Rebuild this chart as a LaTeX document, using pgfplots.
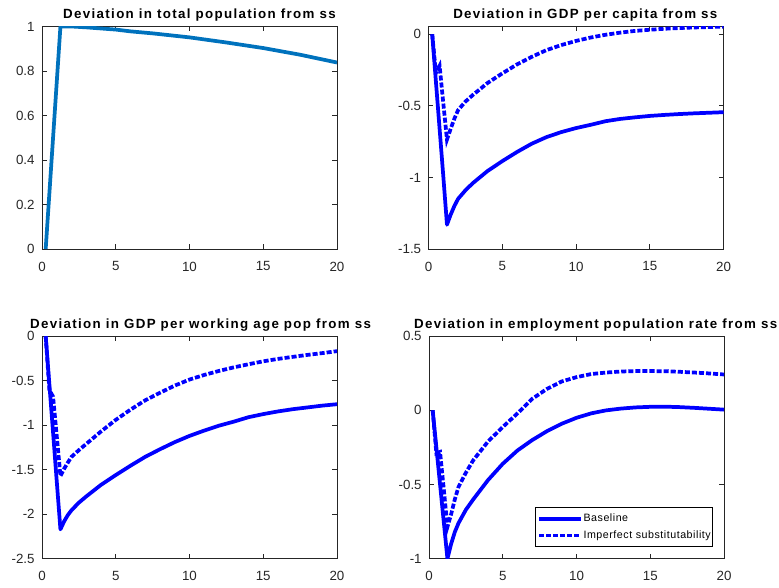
\documentclass[border=0pt]{standalone}
\usepackage{fontspec}
\setmainfont{Liberation Sans}
\newfontfamily\titlefont{Liberation Sans}[LetterSpace=10]
\newfontfamily\legfont{Liberation Sans}[LetterSpace=5]
\usepackage{pgfplots}
\pgfplotsset{compat=1.18}

\definecolor{mblue}{rgb}{0,0.447,0.741}
\definecolor{axgray}{rgb}{0.15,0.15,0.15}

\pgfplotsset{
  mat/.style={
    scale only axis,
    width=221.25pt, height=166.9pt,
    xmin=0, xmax=20,
    xtick={0,5,10,15,20},
    tick align=inside,
    major tick length=3.5pt,
    axis line style={axgray, line width=0.6pt},
    every tick/.style={axgray, line width=0.6pt},
    tick label style={font=\fontsize{10}{11}\selectfont, text=axgray},
    /pgf/number format/assume math mode=true,
    yticklabel style={xshift=-2pt},
    xticklabel style={yshift=-6pt},
    title style={font=\titlefont\fontsize{10}{11}\selectfont\bfseries,
                 anchor=south west, inner sep=0pt, yshift=-2.6pt},
  },
  base/.style={blue, line width=2.8pt, line join=round},
  imp/.style={blue, line width=2.8pt, dash pattern=on 3.8pt off 1.5pt},
}

\begin{document}
\begin{tikzpicture}
\useasboundingbox (0,0) rectangle (584.25pt,440.25pt);

% top left
\begin{axis}[mat, at={(31.5pt,253.5pt)}, anchor=south west,
  ymin=0, ymax=1, ytick={0,0.2,0.4,0.6,0.8,1},
  yticklabels={0,0.2,0.4,0.6,0.8,1},
  title={Deviation in total population from ss},
  title style={at={(0.071,1)}}]
\addplot[mblue, line width=2.8pt, line join=round] coordinates {
 (0.25,0) (1.25,1.0) (2,1.0) (3,0.996) (4,0.991) (5,0.986) (6,0.978)
 (7.5,0.969) (10,0.951) (12.5,0.928) (15,0.903) (17.5,0.873) (20,0.838)};
\end{axis}

% top right
\begin{axis}[mat, at={(321.4pt,253.5pt)}, anchor=south west,
  ymin=-1.5, ymax=0.055, ytick={-1.5,-1,-0.5,0},
  yticklabels={-1.5,-1,-0.5,0},
  title={Deviation in GDP per capita from ss},
  title style={at={(0.083,1)}}]
\addplot[base] coordinates {
 (0.25,0) (0.5,-0.33) (0.75,-0.66) (1,-0.99) (1.25,-1.33) (1.5,-1.26)
 (1.75,-1.2) (2,-1.15) (2.5,-1.09) (3,-1.04) (4,-0.955) (5,-0.886)
 (6,-0.822) (7,-0.764) (8,-0.718) (9,-0.683) (10,-0.655) (11,-0.632)
 (12,-0.607) (13,-0.591) (14,-0.580) (15,-0.570) (16,-0.563) (17,-0.557)
 (18,-0.552) (19,-0.548) (20,-0.544)};
\addplot[imp] coordinates {
 (0.25,0) (0.5,-0.27) (0.75,-0.22) (1,-0.48) (1.25,-0.735) (1.5,-0.66)
 (1.75,-0.59) (2,-0.53) (2.5,-0.47) (3,-0.424) (4,-0.34) (5,-0.273)
 (6,-0.21) (7,-0.157) (8,-0.11) (9,-0.075) (10,-0.046) (11,-0.022)
 (12,-0.003) (13,0.012) (14,0.024) (15,0.032) (16,0.039) (17,0.044)
 (18,0.048) (19,0.051) (20,0.054)};
\end{axis}

% bottom left
\begin{axis}[mat, at={(31.5pt,21.2pt)}, anchor=south west,
  ymin=-2.5, ymax=0, ytick={-2.5,-2,-1.5,-1,-0.5,0},
  yticklabels={-2.5,-2,-1.5,-1,-0.5,0},
  title={Deviation in GDP per working age pop from ss},
  title style={at={(-0.041,1)}}]
\addplot[base] coordinates {
 (0.25,0) (0.5,-0.54) (0.75,-1.08) (1,-1.63) (1.25,-2.17) (1.5,-2.08)
 (1.75,-2.01) (2,-1.955) (2.5,-1.87) (3,-1.80) (4,-1.67) (5,-1.56)
 (6,-1.455) (7,-1.355) (8,-1.27) (9,-1.19) (10,-1.12) (11,-1.06)
 (12,-1.005) (13,-0.96) (14,-0.91) (15,-0.875) (16,-0.845) (17,-0.82)
 (18,-0.80) (19,-0.78) (20,-0.764)};
\addplot[imp] coordinates {
 (0.25,0) (0.5,-0.6) (0.75,-0.68) (1,-1.12) (1.25,-1.57) (1.5,-1.49)
 (1.75,-1.42) (2,-1.355) (2.5,-1.28) (3,-1.21) (4,-1.07) (5,-0.94)
 (6,-0.825) (7,-0.72) (8,-0.635) (9,-0.555) (10,-0.487) (11,-0.435)
 (12,-0.39) (13,-0.35) (14,-0.315) (15,-0.282) (16,-0.255) (17,-0.232)
 (18,-0.21) (19,-0.19) (20,-0.168)};
\end{axis}

% bottom right
\begin{axis}[mat, at={(321.75pt,21.2pt)}, anchor=south west,
  ymin=-1, ymax=0.5, ytick={-1,-0.5,0,0.5},
  yticklabels={-1,-0.5,0,0.5},
  title={Deviation in employment population rate from ss},
  title style={at={(-0.051,1)}},
  legend style={at={(0.963,0.053)}, anchor=south east, draw=black,
    line width=0.5pt, fill=white, inner xsep=1pt, inner ysep=3.4pt,
    row sep=2.5pt,
    font=\legfont\fontsize{8}{9}\selectfont,
    nodes={inner xsep=0.5pt, inner ysep=1pt, text height=6pt, text depth=2pt}},
  legend cell align=left,
  legend image code/.code={\draw[#1] (0pt,0pt) -- (31.5pt,0pt);}]
\addplot[base] coordinates {
 (0.25,0) (0.5,-0.25) (0.75,-0.5) (1,-0.75) (1.25,-1.0) (1.5,-0.9)
 (1.75,-0.82) (2,-0.76) (2.5,-0.67) (3,-0.6) (4,-0.47) (5,-0.36)
 (6,-0.27) (7,-0.20) (8,-0.14) (9,-0.09) (10,-0.05) (11,-0.02)
 (12,0.0) (13,0.012) (14,0.02) (15,0.024) (16,0.025) (17,0.022)
 (18,0.017) (19,0.011) (20,0.005)};
\addlegendentry{Baseline}
\addplot[imp] coordinates {
 (0.25,0) (0.5,-0.29) (0.75,-0.28) (1,-0.53) (1.25,-0.785) (1.5,-0.7)
 (1.75,-0.6) (2,-0.516) (2.5,-0.42) (3,-0.336) (4,-0.21) (5,-0.112)
 (6,-0.02) (7,0.078) (8,0.145) (9,0.195) (10,0.224) (11,0.245)
 (12,0.255) (13,0.262) (14,0.265) (15,0.265) (16,0.264) (17,0.26)
 (18,0.255) (19,0.249) (20,0.242)};
\addlegendentry{Imperfect substitutability}
\end{axis}
\end{tikzpicture}
\end{document}
